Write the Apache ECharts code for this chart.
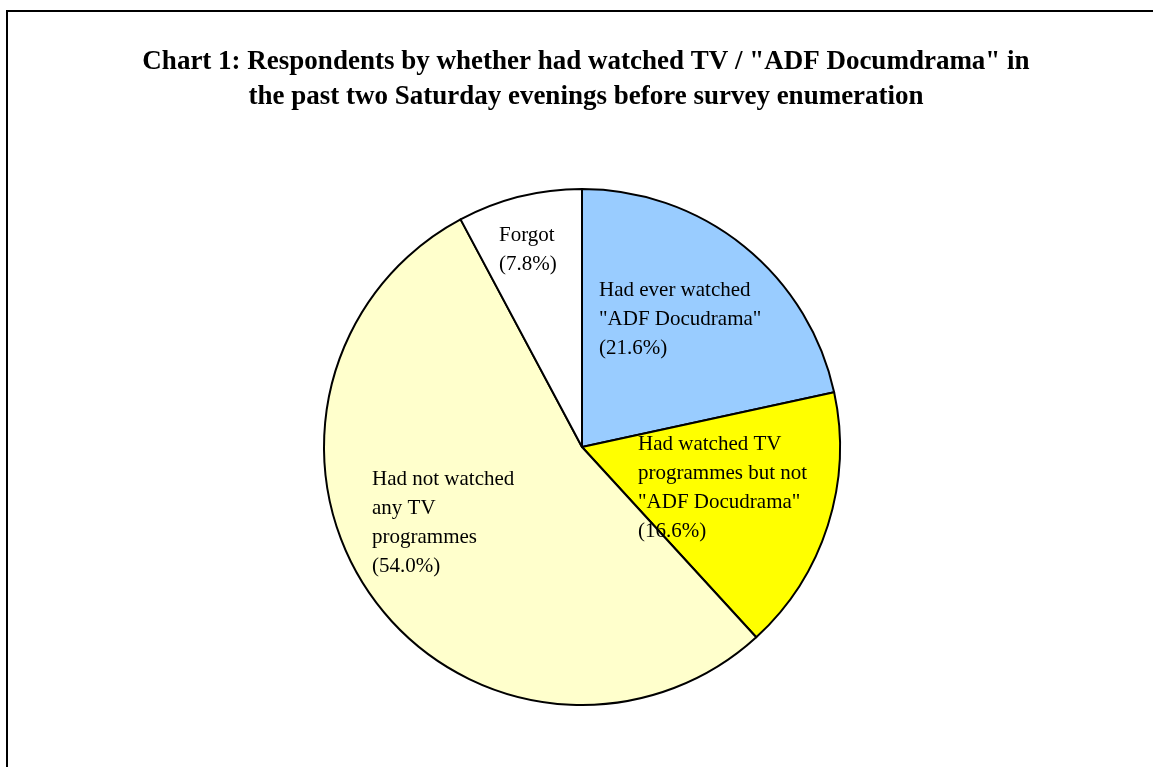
<!DOCTYPE html>
<html>
<head>
<meta charset="utf-8">
<script src="https://cdn.jsdelivr.net/npm/echarts@6/dist/echarts.min.js"></script>
<style>
html,body{margin:0;padding:0;background:#fff;}
#chart{width:1153px;height:767px;}
</style>
</head>
<body>
<div id="chart"></div>
<script>
const categories = [
  'Had ever watched\n"ADF Docudrama"',
  'Had watched TV\nprogrammes but not\n"ADF Docudrama"',
  'Had not watched\nany TV\nprogrammes',
  'Forgot'
];
const percents = [21.6, 16.6, 54.0, 7.8];
const sliceColors = ['#99CCFF', '#FFFF00', '#FFFFCC', '#FFFFFF'];
const titleLines = [
  'Chart 1: Respondents by whether had watched TV / "ADF Documdrama" in',
  'the past two Saturday evenings before survey enumeration'
];
// label anchor positions (top-left of label block)
const labelAnchors = [[599, 276], [638, 430], [372, 465], [499, 221]];

const chart = echarts.init(document.getElementById('chart'));
chart.setOption({
  backgroundColor: '#fff',
  animation: false,
  title: {
    text: titleLines.join('\n'),
    left: 581, top: 40, textAlign: 'center',
    textStyle: {fontFamily: 'Liberation Serif', fontWeight: 'bold', fontSize: 27, lineHeight: 35, color: '#000'}
  },
  graphic: [{
    type: 'rect', shape: {x: 7, y: 11, width: 1160, height: 770},
    style: {fill: 'none', stroke: '#000', lineWidth: 2}
  }],
  series: [{
    type: 'pie',
    center: [582, 447],
    radius: 258,
    startAngle: 90,
    clockwise: true,
    data: categories.map((c, i) => ({name: c, value: percents[i], itemStyle: {color: sliceColors[i]}})),
    itemStyle: {borderColor: '#000', borderWidth: 2},
    label: {
      show: true, position: 'inside',
      formatter: p => p.name + '\n(' + p.value.toFixed(1) + '%)',
      fontFamily: 'Liberation Serif', fontSize: 21, lineHeight: 29, color: '#000', align: 'left'
    },
    labelLine: {show: false},
    labelLayout: p => ({x: labelAnchors[p.dataIndex][0], y: labelAnchors[p.dataIndex][1], align: 'left', verticalAlign: 'top'}),
    emphasis: {disabled: true}
  }]
});
</script>
</body>
</html>
